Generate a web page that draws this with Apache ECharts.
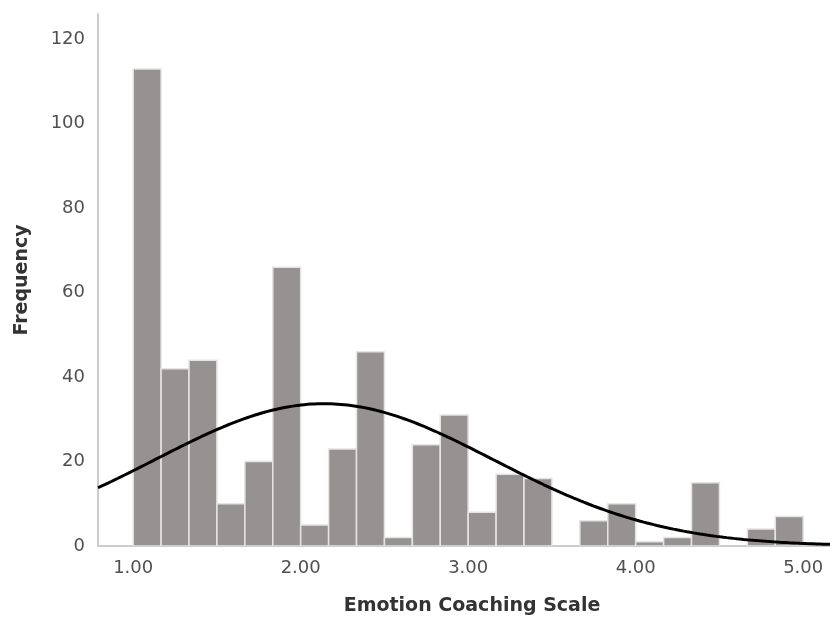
<!DOCTYPE html>
<html>
<head>
<meta charset="utf-8">
<title>Emotion Coaching Scale</title>
<script src="https://cdn.jsdelivr.net/npm/echarts@6/dist/echarts.min.js"></script>
<style>
  html, body { margin: 0; padding: 0; background: #ffffff; }
  #chart { width: 830px; height: 619px; }
</style>
</head>
<body>
<div id="chart"></div>
<script>
// Histogram bins: lower edges, width 1/6 of a scale point
const binStart = 1.0;
const binWidth = 1 / 6;
const binCounts = [113, 42, 44, 10, 20, 66, 5, 23, 46, 2, 24, 31,
                   8, 17, 16, 0, 6, 10, 1, 2, 15, 0, 4, 7];

// Tick labels
const xTickValues = [1, 2, 3, 4, 5];
const yTickValues = [0, 20, 40, 60, 80, 100, 120];

// Fitted normal curve parameters
const curveMean = 2.14;
const curveSd = 1.01;

const xMin = 0.79, xMax = 5.16;

const total = binCounts.reduce((a, b) => a + b, 0);

const binData = binCounts.map((c, i) => {
  const lo = binStart + i * binWidth;
  return [lo, lo + binWidth, c];
});

// Normal density scaled to counts per bin
const curveData = [];
for (let k = 0; k <= 220; k++) {
  const x = xMin + (xMax - xMin) * k / 220;
  const z = (x - curveMean) / curveSd;
  const y = total * binWidth * Math.exp(-0.5 * z * z) / (curveSd * Math.sqrt(2 * Math.PI));
  curveData.push([x, y]);
}

const chart = echarts.init(document.getElementById('chart'), null, { renderer: 'canvas' });

const textFont = '"DejaVu Sans", Verdana, sans-serif';

chart.setOption({
  animation: false,
  backgroundColor: '#ffffff',
  grid: { left: 98, right: 0, top: 14, bottom: 73, outerBoundsMode: 'none', containLabel: false },
  xAxis: {
    type: 'value',
    min: xMin,
    max: xMax,
    name: 'Emotion Coaching Scale',
    nameLocation: 'middle',
    nameGap: 51,
    nameTextStyle: { fontFamily: textFont, fontSize: 19, fontWeight: 'bold', color: '#333333', padding: [0, 0, 0, 16] },
    axisLine: { show: true, lineStyle: { color: '#cccccc', width: 2 } },
    axisTick: { show: false },
    splitLine: { show: false },
    axisLabel: {
      customValues: xTickValues,
      formatter: v => v.toFixed(2),
      fontFamily: textFont,
      fontSize: 18,
      color: '#505050',
      margin: 13
    }
  },
  yAxis: {
    type: 'value',
    min: 0,
    max: 126,
    interval: 20,
    name: 'Frequency',
    nameLocation: 'middle',
    nameGap: 66,
    nameRotate: 90,
    nameTextStyle: { fontFamily: textFont, fontSize: 19, fontWeight: 'bold', color: '#333333' },
    axisLine: { show: true, lineStyle: { color: '#cccccc', width: 2 } },
    axisTick: { show: false },
    splitLine: { show: false },
    axisLabel: {
      customValues: yTickValues,
      fontFamily: textFont,
      fontSize: 18,
      color: '#505050',
      margin: 13
    }
  },
  series: [
    {
      type: 'custom',
      data: binData,
      encode: { x: [0, 1], y: 2 },
      clip: true,
      renderItem: function (params, api) {
        const count = api.value(2);
        if (!count) return null;
        const topLeft = api.coord([api.value(0), count]);
        const bottomRight = api.coord([api.value(1), 0]);
        return {
          type: 'rect',
          shape: {
            x: topLeft[0],
            y: topLeft[1],
            width: bottomRight[0] - topLeft[0],
            height: bottomRight[1] - topLeft[1]
          },
          style: { fill: '#979292', stroke: '#e6e4e4', lineWidth: 1.5 }
        };
      },
      z: 2
    },
    {
      type: 'line',
      data: curveData,
      showSymbol: false,
      smooth: false,
      clip: true,
      lineStyle: { color: '#000000', width: 3 },
      z: 3
    }
  ]
});
</script>
</body>
</html>
